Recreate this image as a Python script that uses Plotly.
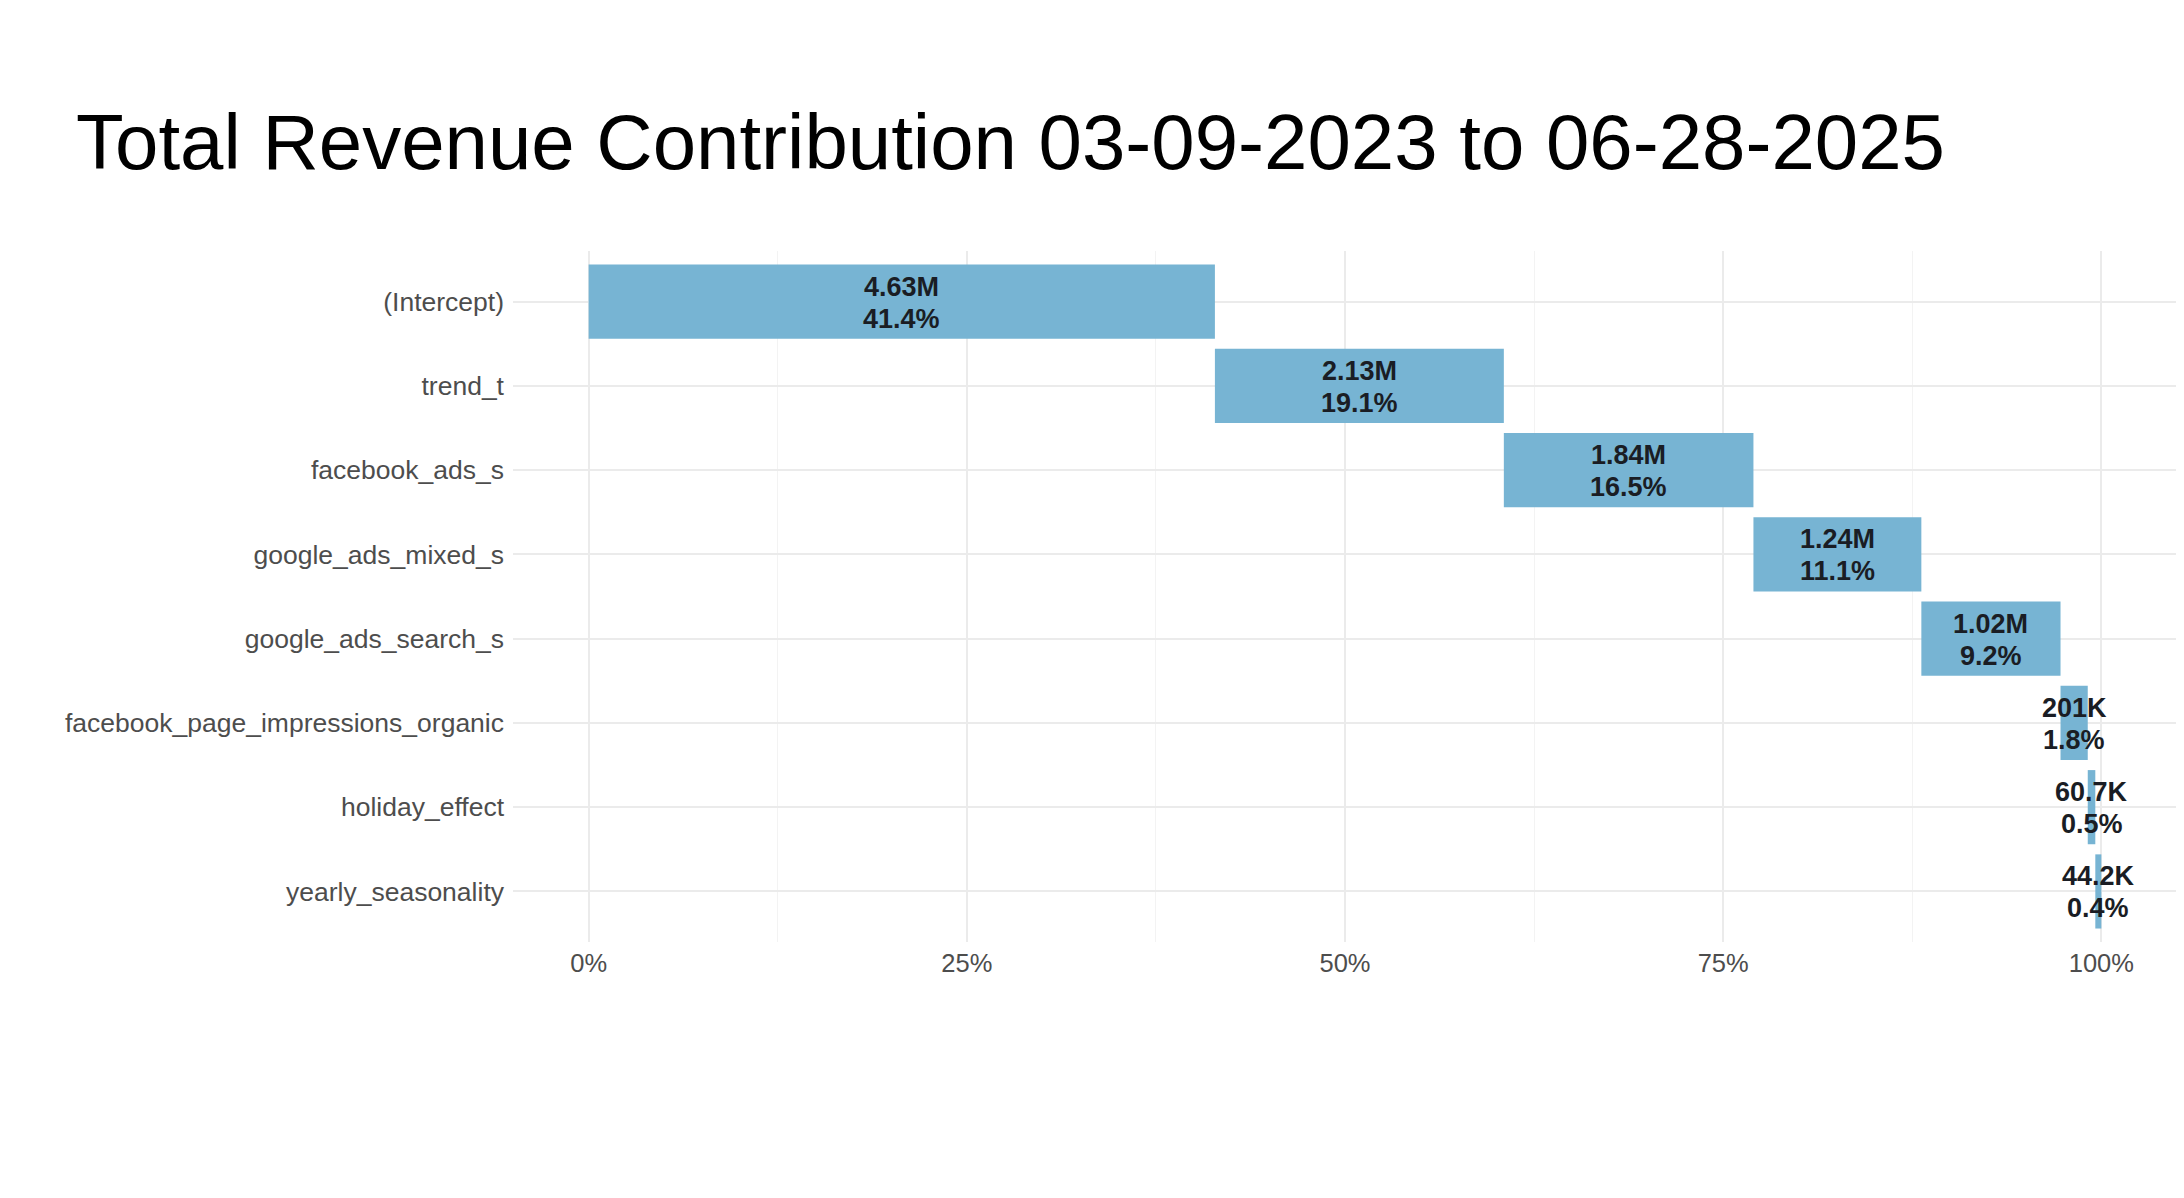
import plotly.graph_objects as go

categories = ["(Intercept)", "trend_t", "facebook_ads_s", "google_ads_mixed_s",
              "google_ads_search_s", "facebook_page_impressions_organic",
              "holiday_effect", "yearly_seasonality"]
revenue = [4.63e6, 2.13e6, 1.84e6, 1.24e6, 1.02e6, 201e3, 60.7e3, 44.2e3]
share_pct = [41.4, 19.1, 16.5, 11.1, 9.2, 1.8, 0.5, 0.4]
x_tickvals = [0, 0.25, 0.5, 0.75, 1.0]
x_ticktext = ["0%", "25%", "50%", "75%", "100%"]
title_text = "Total Revenue Contribution 03-09-2023 to 06-28-2025"


def fmt_value(v):
    if v >= 1e6:
        return f"{v/1e6:.3g}M"
    return f"{v/1e3:.3g}K"


shares = [p / 100 for p in share_pct]
bases = []
acc = 0.0
for s in shares:
    bases.append(acc)
    acc += s
mids = [b + s / 2 for b, s in zip(bases, shares)]

FONT = "Liberation Sans, Arial, Helvetica, sans-serif"
W, H = 2176, 1190

fig = go.Figure()
fig.add_trace(go.Bar(
    y=categories, x=shares, base=bases, orientation="h",
    width=0.88, marker=dict(color="#77b4d3", line=dict(width=0)),
    hoverinfo="skip", showlegend=False,
))

label_font = dict(family=FONT, size=27, color="#1a1d24", weight="bold")
for cat, m, v, p in zip(categories, mids, revenue, share_pct):
    fig.add_annotation(x=m, y=cat, xref="x", yref="y", text=fmt_value(v),
                       showarrow=False, yshift=15, font=label_font,
                       xanchor="center", yanchor="middle")
    fig.add_annotation(x=m, y=cat, xref="x", yref="y", text=f"{p:.1f}%",
                       showarrow=False, yshift=-17, font=label_font,
                       xanchor="center", yanchor="middle")

fig.update_layout(
    width=W, height=H,
    paper_bgcolor="white", plot_bgcolor="white",
    margin=dict(l=505, r=7, t=243, b=256),
    title=dict(text=title_text, x=68/W, xanchor="left", xref="container",
               y=1 - 134/H, yanchor="middle",
               font=dict(family=FONT, size=78, color="#000000")),
    font=dict(family=FONT),
)
fig.update_xaxes(
    range=[-0.05, 1.05], tickvals=x_tickvals, ticktext=x_ticktext,
    showgrid=True, gridcolor="#ebebeb", gridwidth=1.5,
    zeroline=False, showline=False, ticks="",
    tickfont=dict(family=FONT, size=25.5, color="#4d4d4d"),
    ticklabelstandoff=3,
    minor=dict(tickvals=[0.125, 0.375, 0.625, 0.875], showgrid=True,
               gridcolor="#f3f3f3", gridwidth=1),
)
fig.update_yaxes(
    categoryorder="array", categoryarray=categories,
    range=[len(categories) - 0.4, -0.6],
    showgrid=True, gridcolor="#ebebeb", gridwidth=1.5,
    zeroline=False, showline=False, ticks="",
    tickfont=dict(family=FONT, size=26.5, color="#4d4d4d"),
    ticklabelstandoff=8,
)

fig.write_html("out.html")
